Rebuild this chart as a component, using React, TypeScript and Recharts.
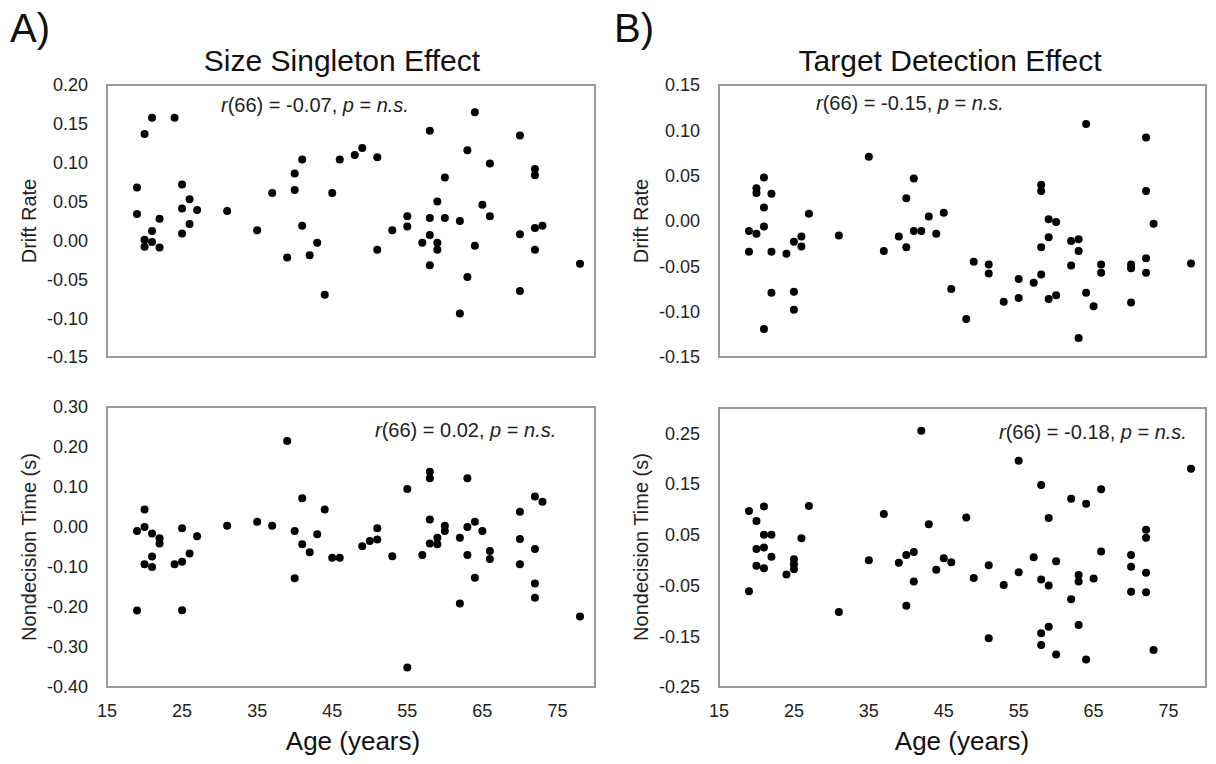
import { ScatterChart, Scatter, XAxis, YAxis, ReferenceArea } from "recharts";

const FONT = '"Liberation Sans", Arial, sans-serif';

const AGE_TICKS = [15, 25, 35, 45, 55, 65, 75];
const AGE_DOMAIN: [number, number] = [15, 80];

// [age, effect] pairs
const sizeDrift = [
  [21, 0.158], [24, 0.158], [20, 0.137], [19, 0.068], [19, 0.034], [22, 0.028], [21, 0.012],
  [20, 0.001], [21, -0.002], [20, -0.008], [22, -0.009], [25, 0.072], [26, 0.053], [25, 0.041],
  [27, 0.039], [26, 0.021], [25, 0.009], [31, 0.038], [35, 0.013], [37, 0.061], [40, 0.086],
  [41, 0.104], [40, 0.065], [46, 0.104], [45, 0.061], [41, 0.019], [43, -0.003], [39, -0.022],
  [42, -0.019], [44, -0.07], [48, 0.11], [49, 0.119], [51, 0.107], [58, 0.141], [64, 0.165],
  [70, 0.135], [63, 0.116], [66, 0.099], [72, 0.092], [72, 0.084], [60, 0.081], [59, 0.05],
  [65, 0.046], [66, 0.031], [55, 0.031], [55, 0.018], [53, 0.013], [58, 0.029], [60, 0.029],
  [62, 0.025], [58, 0.007], [57, -0.003], [59, -0.003], [59, -0.012], [51, -0.012], [64, -0.007],
  [58, -0.032], [63, -0.047], [62, -0.094], [70, 0.008], [72, 0.016], [73, 0.019], [72, -0.012],
  [70, -0.065], [78, -0.03],
];

const sizeNondecision = [
  [39, 0.215], [20, 0.044], [19, -0.01], [20, 0.0], [21, -0.016], [22, -0.028], [22, -0.041],
  [21, -0.074], [20, -0.093], [21, -0.1], [19, -0.209], [25, -0.003], [27, -0.023], [26, -0.066],
  [24, -0.093], [25, -0.087], [25, -0.208], [31, 0.003], [35, 0.013], [37, 0.003], [41, 0.072],
  [40, -0.01], [41, -0.043], [42, -0.063], [40, -0.128], [43, -0.018], [44, 0.044], [45, -0.077],
  [46, -0.077], [49, -0.048], [50, -0.035], [51, -0.003], [51, -0.031], [53, -0.073], [55, 0.095],
  [55, -0.351], [57, -0.07], [58, 0.138], [58, 0.122], [58, 0.019], [58, -0.041], [59, -0.027],
  [59, -0.043], [60, 0.003], [60, -0.01], [62, -0.027], [62, -0.191], [63, 0.122], [63, 0.0],
  [64, 0.013], [63, -0.07], [64, -0.127], [65, -0.01], [66, -0.06], [66, -0.08], [70, 0.038],
  [70, -0.03], [70, -0.093], [72, 0.076], [73, 0.063], [72, -0.055], [72, -0.141], [72, -0.177],
  [78, -0.224],
];

const targetDrift = [
  [35, 0.071], [21, 0.048], [20, 0.036], [20, 0.031], [22, 0.03], [21, 0.015], [21, -0.006],
  [19, -0.011], [20, -0.014], [19, -0.034], [22, -0.034], [24, -0.036], [25, -0.023], [26, -0.017],
  [26, -0.028], [27, 0.008], [22, -0.079], [25, -0.078], [25, -0.098], [21, -0.119], [31, -0.016],
  [37, -0.033], [39, -0.017], [40, -0.029], [40, 0.025], [41, 0.047], [41, -0.011], [42, -0.011],
  [43, 0.005], [44, -0.014], [45, 0.009], [46, -0.075], [48, -0.108], [49, -0.045], [51, -0.048],
  [51, -0.058], [53, -0.089], [55, -0.064], [55, -0.085], [57, -0.068], [58, -0.059], [58, 0.04],
  [58, 0.033], [58, -0.029], [59, -0.018], [59, 0.002], [60, -0.001], [59, -0.086], [60, -0.082],
  [62, -0.022], [63, -0.02], [63, -0.033], [62, -0.049], [64, 0.107], [64, -0.079], [65, -0.094],
  [63, -0.129], [66, -0.048], [66, -0.057], [70, -0.048], [70, -0.052], [70, -0.09], [72, 0.092],
  [72, 0.033], [72, -0.041], [72, -0.057], [73, -0.003], [78, -0.047],
];

const targetNondecision = [
  [42, 0.255], [19, 0.097], [21, 0.106], [27, 0.107], [20, 0.077], [21, 0.05], [22, 0.05],
  [26, 0.043], [20, 0.022], [21, 0.025], [22, 0.007], [20, -0.011], [21, -0.016], [25, 0.002],
  [25, -0.008], [25, -0.018], [24, -0.028], [19, -0.061], [31, -0.102], [35, 0.0], [37, 0.091],
  [39, -0.005], [40, 0.01], [41, 0.016], [41, -0.042], [40, -0.09], [43, 0.071], [44, -0.019],
  [45, 0.004], [46, -0.004], [48, 0.084], [49, -0.035], [51, -0.01], [51, -0.154], [53, -0.049],
  [55, 0.196], [55, -0.024], [57, 0.006], [58, 0.148], [58, -0.038], [58, -0.144], [58, -0.167],
  [59, 0.083], [59, -0.05], [59, -0.131], [60, -0.002], [60, -0.186], [62, 0.121], [62, -0.077],
  [63, -0.029], [63, -0.042], [63, -0.128], [64, 0.111], [64, -0.196], [65, -0.036], [66, 0.14],
  [66, 0.017], [70, 0.01], [70, -0.013], [70, -0.062], [72, 0.06], [72, 0.044], [72, -0.025],
  [72, -0.063], [73, -0.177], [78, 0.18],
];

const driftTicksA = [-0.15, -0.1, -0.05, 0, 0.05, 0.1, 0.15, 0.2];
const nondecTicksA = [-0.4, -0.3, -0.2, -0.1, 0, 0.1, 0.2, 0.3];
const driftTicksB = [-0.15, -0.1, -0.05, 0, 0.05, 0.1, 0.15];
const nondecTicksB = [-0.25, -0.15, -0.05, 0.05, 0.15, 0.25];

const Y_AXIS_W = 80;
const M_TOP = 12;
const M_RIGHT = 6;

type PanelProps = {
  points: number[][];
  plotLeft: number;
  plotTop: number;
  plotW: number;
  plotH: number;
  yDomain: [number, number];
  yTicks: number[];
  showAge: boolean;
};

const dot = (props: any) => <circle cx={props.cx} cy={props.cy} r={4} fill="#000" />;

function Panel({ points, plotLeft, plotTop, plotW, plotH, yDomain, yTicks, showAge }: PanelProps) {
  const data = points.map(([age, value]) => ({ age, value }));
  const xAxisH = showAge ? 40 : 0;
  const mBottom = showAge ? 0 : 14;
  const width = Y_AXIS_W + plotW + M_RIGHT;
  const height = M_TOP + plotH + xAxisH + mBottom;
  const tickStyle = { fill: "#222", fontSize: 18, fontFamily: FONT };
  return (
    <div style={{ position: "absolute", left: plotLeft - Y_AXIS_W, top: plotTop - M_TOP }}>
      <ScatterChart width={width} height={height} margin={{ top: M_TOP, right: M_RIGHT, bottom: mBottom, left: 0 }}>
        <XAxis
          type="number"
          dataKey="age"
          domain={AGE_DOMAIN}
          ticks={AGE_TICKS}
          interval={0}
          allowDataOverflow
          hide={!showAge}
          height={xAxisH}
          tickLine={false}
          axisLine={false}
          tickMargin={11}
          tick={tickStyle}
        />
        <YAxis
          type="number"
          dataKey="value"
          domain={yDomain}
          ticks={yTicks}
          interval={0}
          allowDataOverflow
          width={Y_AXIS_W}
          tickLine={false}
          axisLine={false}
          tickMargin={13}
          tick={tickStyle}
          tickFormatter={(v: number) => v.toFixed(2)}
        />
        <ReferenceArea
          x1={AGE_DOMAIN[0]}
          x2={AGE_DOMAIN[1]}
          y1={yDomain[0]}
          y2={yDomain[1]}
          fill="none"
          fillOpacity={0}
          stroke="#9a9a9a"
          strokeWidth={2}
        />
        <Scatter data={data} shape={dot} isAnimationActive={false} />
      </ScatterChart>
    </div>
  );
}

const textBase: React.CSSProperties = { position: "absolute", fontFamily: FONT, whiteSpace: "nowrap", color: "#111" };

function Stat({ left, top, n, r }: { left: number; top: number; n: number; r: string }) {
  return (
    <div style={{ ...textBase, left, top, fontSize: 20, lineHeight: "20px", color: "#222" }}>
      <i>r</i>({n}) = {r}, <i>p</i> = <i>n.s.</i>
    </div>
  );
}

function YLabel({ x, y, text }: { x: number; y: number; text: string }) {
  return (
    <div
      style={{
        ...textBase,
        left: x,
        top: y,
        fontSize: 20,
        lineHeight: "20px",
        color: "#222",
        transform: "translate(-50%, -50%) rotate(-90deg)",
      }}
    >
      {text}
    </div>
  );
}

function Centered({ x, top, size, text }: { x: number; top: number; size: number; text: string }) {
  return (
    <div style={{ ...textBase, left: x, top, fontSize: size, lineHeight: `${size}px`, transform: "translateX(-50%)" }}>
      {text}
    </div>
  );
}

export default function App() {
  return (
    <div style={{ position: "absolute", left: 0, top: 0, width: 1216, height: 764, background: "#fff" }}>
      <div style={{ ...textBase, left: 10, top: 8, fontSize: 40, lineHeight: "40px" }}>A)</div>
      <div style={{ ...textBase, left: 614, top: 8, fontSize: 40, lineHeight: "40px" }}>B)</div>
      <Centered x={342} top={46} size={30} text="Size Singleton Effect" />
      <Centered x={950} top={46} size={30} text="Target Detection Effect" />

      <Panel points={sizeDrift} plotLeft={107} plotTop={85} plotW={488} plotH={272}
        yDomain={[-0.15, 0.2]} yTicks={driftTicksA} showAge={false} />
      <Panel points={sizeNondecision} plotLeft={107} plotTop={407} plotW={488} plotH={280}
        yDomain={[-0.4, 0.3]} yTicks={nondecTicksA} showAge />
      <Panel points={targetDrift} plotLeft={719} plotTop={85} plotW={487} plotH={272}
        yDomain={[-0.15, 0.15]} yTicks={driftTicksB} showAge={false} />
      <Panel points={targetNondecision} plotLeft={719} plotTop={408} plotW={487} plotH={279}
        yDomain={[-0.25, 0.3]} yTicks={nondecTicksB} showAge />

      <Stat left={221} top={95} n={66} r="-0.07" />
      <Stat left={375} top={420} n={66} r="0.02" />
      <Stat left={816} top={93} n={66} r="-0.15" />
      <Stat left={999} top={422} n={66} r="-0.18" />

      <YLabel x={29} y={221} text="Drift Rate" />
      <YLabel x={29} y={547} text="Nondecision Time (s)" />
      <YLabel x={641} y={221} text="Drift Rate" />
      <YLabel x={641} y={547} text="Nondecision Time (s)" />

      <Centered x={353} top={728} size={26} text="Age (years)" />
      <Centered x={962} top={728} size={26} text="Age (years)" />
    </div>
  );
}
